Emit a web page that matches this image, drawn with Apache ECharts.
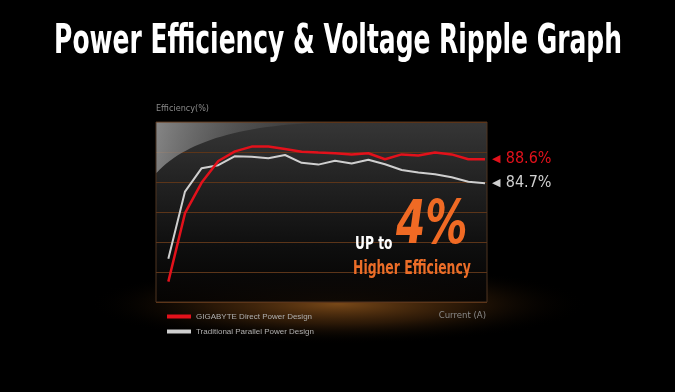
<!DOCTYPE html>
<html>
<head>
<meta charset="utf-8">
<script src="https://cdn.jsdelivr.net/npm/echarts@6/dist/echarts.min.js"></script>
<style>
html,body{margin:0;padding:0;background:#000;}
#chart{width:675px;height:392px;}
</style>
</head>
<body>
<div id="chart"></div>
<script>
// ---- data ----
var titleText = 'Power Efficiency & Voltage Ripple Graph';
var seriesNames = ['GIGABYTE Direct Power Design', 'Traditional Parallel Power Design'];
var currentSteps = [1,2,3,4,5,6,7,8,9,10,11,12,13,14,15,16,17,18,19,20];
var gigabyteEff = [68.4,79.8,84.9,88.5,90.1,90.9,90.9,90.5,90.05,89.9,89.8,89.6,89.8,88.8,89.6,89.4,89.9,89.6,88.8,88.8];
var traditionalEff = [72.2,83.4,87.3,87.8,89.3,89.2,88.95,89.5,88.2,87.9,88.55,88.1,88.7,87.95,87.0,86.6,86.3,85.8,85.05,84.8];
var endLabels = ['88.6%', '84.7%'];
var yAxisName = 'Efficiency(%)';
var xAxisName = 'Current (A)';
var calloutTexts = ['UP to', '4%', 'Higher Efficiency'];

function pairs(xs, ys){ return xs.map(function(x,i){ return [x, ys[i]]; }); }

// decorative sheen outline (quadratic curve)
function sheenPoints(){
  var p0=[156.5,173], p1=[200,125], p2=[330,122.5], pts=[];
  for (var i=0;i<=30;i++){
    var t=i/30, a=(1-t)*(1-t), b=2*t*(1-t), c=t*t;
    pts.push([a*p0[0]+b*p1[0]+c*p2[0], a*p0[1]+b*p1[1]+c*p2[1]]);
  }
  pts.push([156.5,122.5]);
  return pts;
}

var NARROW = '"Liberation Sans Narrow","DejaVu Sans Condensed",sans-serif';
var chart = echarts.init(document.getElementById('chart'));

var option = {
  backgroundColor: '#000',
  animation: false,
  grid: {
    left: 156, top: 122, right: 188, bottom: 90,
    show: true,
    backgroundColor: {type:'linear', x:0, y:0, x2:0, y2:1, colorStops:[
      {offset:0, color:'#363636'}, {offset:0.3, color:'#242424'}, {offset:0.7, color:'#0e0e0e'}, {offset:1, color:'rgba(5,3,2,0.9)'}]},
    borderColor: '#4f3520', borderWidth: 1
  },
  xAxis: {
    type: 'value', min: 0.26, max: 20.12,
    axisLine: {show:false}, axisTick: {show:false}, axisLabel: {show:false}, splitLine: {show:false},
    name: xAxisName, nameLocation: 'end', nameGap: -1,
    nameTextStyle: {color:'#8a8a8a', fontSize:9.5, fontFamily:NARROW, align:'right', verticalAlign:'top', padding:[9,0,0,0]}
  },
  yAxis: {
    type: 'value', min: 65, max: 95, interval: 5,
    axisLine: {show:false}, axisTick: {show:false}, axisLabel: {show:false},
    splitLine: {show:true, lineStyle:{color:'#5c3519', width:1}},
    name: yAxisName, nameLocation: 'end', nameGap: 9,
    nameTextStyle: {color:'#8a8a8a', fontSize:9, fontFamily:NARROW, align:'left'}
  },
  legend: {
    orient: 'vertical', left: 162, top: 306,
    icon: 'rect', itemWidth: 24, itemHeight: 4, itemGap: 4,
    textStyle: {color:'#b0b0b0', fontSize:8, fontFamily:'"Liberation Sans",Arial,sans-serif', lineHeight:11},
    data: seriesNames
  },
  series: [
    {
      name: seriesNames[0], type: 'line', z: 4, symbol: 'none',
      data: pairs(currentSteps, gigabyteEff),
      lineStyle: {color:'#e3111b', width:2.5}, itemStyle: {color:'#e3111b'},
      endLabel: {show:true, distance: 7, formatter: '{t|◀} {v|' + endLabels[0] + '}',
        rich: {t:{color:'#e3111b', fontSize:11, fontFamily:'DejaVu Sans'}, v:{color:'#e3111b', fontSize:16, fontFamily:NARROW, padding:[0,0,0,2]}}}
    },
    {
      name: seriesNames[1], type: 'line', z: 3, symbol: 'none',
      data: pairs(currentSteps, traditionalEff),
      lineStyle: {color:'#cfcfcf', width:2}, itemStyle: {color:'#cfcfcf'},
      endLabel: {show:true, distance: 7, formatter: '{t|◀} {v|' + endLabels[1] + '}',
        rich: {t:{color:'#cfcfcf', fontSize:11, fontFamily:'DejaVu Sans'}, v:{color:'#cfcfcf', fontSize:16, fontFamily:NARROW, padding:[0,0,0,2]}}}
    }
  ],
  graphic: [
    { type:'circle', z:-1, silent:true, x:338, y:304, scaleY:0.16,
      shape:{cx:0, cy:0, r:250},
      style:{fill:{type:'radial', x:0.5, y:0.5, r:0.5, colorStops:[
        {offset:0, color:'rgba(200,120,40,0.6)'}, {offset:0.5, color:'rgba(150,85,25,0.28)'}, {offset:1, color:'rgba(0,0,0,0)'}]}}
    },
    { type:'polygon', z:1, silent:true,
      shape:{points: sheenPoints()},
      style:{fill:{type:'linear', x:0, y:0, x2:1, y2:0.4, colorStops:[
        {offset:0, color:'rgba(160,160,160,0.75)'}, {offset:0.5, color:'rgba(110,110,110,0.45)'}, {offset:1, color:'rgba(70,70,70,0.2)'}]}}
    },
    { type:'text', z:10, x:338, y:43, scaleX:0.693, silent:true,
      style:{text:titleText, x:0, y:0, fill:'#ffffff', font:'bold 40px ' + NARROW, textAlign:'center', textVerticalAlign:'middle'}
    },
    { type:'text', z:10, x:355, y:245, scaleX:0.8, silent:true,
      style:{text:calloutTexts[0], fill:'#ffffff', font:'bold 17px ' + NARROW, textAlign:'left', textVerticalAlign:'middle'}
    },
    { type:'text', z:10, x:396, y:227, scaleX:0.78, silent:true,
      style:{text:calloutTexts[1], fill:'#f06a24', font:'italic bold 60px ' + NARROW, textAlign:'left', textVerticalAlign:'middle'}
    },
    { type:'text', z:10, x:353, y:269, scaleX:0.69, silent:true,
      style:{text:calloutTexts[2], fill:'#ec6d28', font:'bold 20px ' + NARROW, textAlign:'left', textVerticalAlign:'middle'}
    }
  ]
};
chart.setOption(option);
</script>
</body>
</html>
